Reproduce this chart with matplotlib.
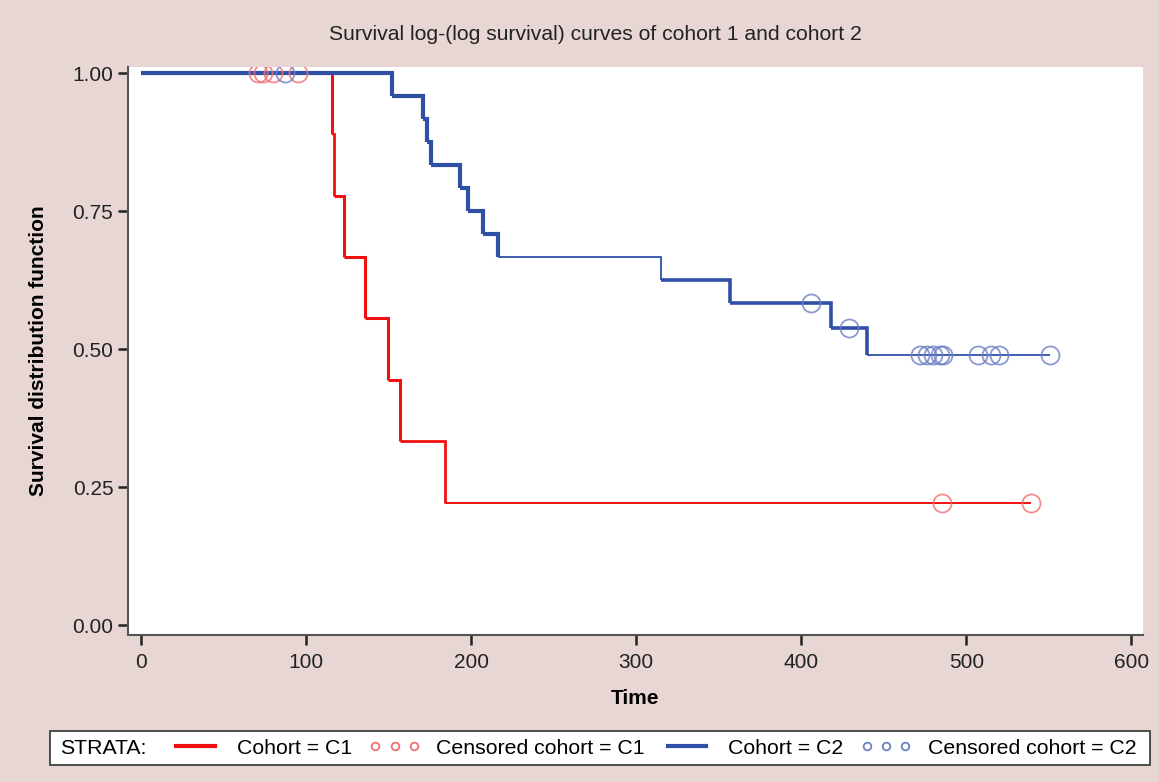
import matplotlib as mpl
mpl.use('Agg')
import matplotlib.pyplot as plt
from matplotlib.lines import Line2D
from matplotlib.patches import Rectangle

plt.rcParams['font.family'] = ['Liberation Sans', 'DejaVu Sans']

# Kaplan-Meier steps
c1_time = [0, 116, 117, 123, 136, 149.5, 157, 184, 539]
c1_surv = [1.0, 0.889, 0.778, 0.667, 0.556, 0.444, 0.333, 0.222, 0.222]
c2_time = [0, 152, 171, 173, 176, 193, 198, 207, 216, 315, 357, 418, 440, 551]
c2_surv = [1.0, 0.958, 0.917, 0.875, 0.833, 0.792, 0.750, 0.708, 0.667,
           0.625, 0.583, 0.538, 0.489, 0.489]

# censored observations
c1_cens_time = [71, 74, 80, 95, 485, 539]
c1_cens_surv = [1.0, 1.0, 1.0, 1.0, 0.222, 0.222]
c2_cens_time = [87, 406, 429, 472, 476, 480, 484, 486, 507, 515, 520, 551]
c2_cens_surv = [1.0, 0.583, 0.538, 0.489, 0.489, 0.489, 0.489, 0.489,
                0.489, 0.489, 0.489, 0.489]

RED = '#f01010'
BLUE = '#3050a8'
BG = '#e7d6d3'


def draw_steps(ax, t, s, color, widths):
    # one horizontal + following vertical per interval, each with own width
    for i in range(len(t) - 1):
        xs = [t[i], t[i + 1], t[i + 1]]
        ys = [s[i], s[i], s[i + 1]]
        ax.plot(xs, ys, color=color, lw=widths[i], solid_joinstyle='miter',
                solid_capstyle='butt', zorder=3)


def main():
    fig = plt.figure(figsize=(11.59, 7.82), dpi=100, facecolor=BG)
    ax = fig.add_axes([0.1104, 0.188, 0.8757, 0.7263])
    ax.set_facecolor('white')

    red_w = [2.2, 2.0, 2.2, 2.2, 2.2, 2.2, 2.0, 1.4]
    blue_w = [3.0, 3.0, 3.0, 3.0, 3.0, 3.0, 3.0, 3.0, 1.3, 2.6, 2.6, 2.6, 1.3]
    draw_steps(ax, c1_time, c1_surv, RED, red_w)
    draw_steps(ax, c2_time, c2_surv, BLUE, blue_w)

    ax.plot(c1_cens_time, c1_cens_surv, 'o', ms=13, mfc='none', mec='#f07070',
            mew=1.3, alpha=0.8, zorder=4)
    ax.plot(c2_cens_time, c2_cens_surv, 'o', ms=13, mfc='none', mec='#6e80c4',
            mew=1.3, alpha=0.8, zorder=4)

    ax.set_xlim(-7.9, 607)
    ax.set_ylim(-0.018, 1.011)
    ax.set_xticks([0, 100, 200, 300, 400, 500, 600])
    ax.set_yticks([0, 0.25, 0.5, 0.75, 1.0])
    ax.set_yticklabels(['0.00', '0.25', '0.50', '0.75', '1.00'])
    for side in ['top', 'right']:
        ax.spines[side].set_visible(False)
    for side in ['left', 'bottom']:
        ax.spines[side].set_color('#555555')
        ax.spines[side].set_linewidth(1.5)
    ax.tick_params(direction='out', length=7.5, width=1.8, color='#222222',
                   labelsize=15, labelcolor='#222222', pad=3)
    ax.tick_params(axis='x', pad=5.5)

    ax.set_xlabel('Time', fontsize=15, fontweight='bold', labelpad=12)
    fig.text(0.033, 0.551, 'Survival distribution function', rotation=90,
             fontsize=15, fontweight='bold', ha='center', va='center')
    fig.text(0.514, 0.956, 'Survival log-(log survival) curves of cohort 1 and cohort 2',
             fontsize=15.2, ha='center', va='center', color='#222222')

    # legend strip
    x0, x1 = 50 / 1159, 1150 / 1159
    y0, y1 = 1 - 765 / 782, 1 - 731 / 782
    fig.patches.append(Rectangle((x0, y0), x1 - x0, y1 - y0, transform=fig.transFigure,
                                 facecolor='white', edgecolor='#333333', lw=1.2))
    fig.text(60 / 1159, (y0 + y1) / 2, 'STRATA:', fontsize=15.3, va='center')
    handles = [
        Line2D([], [], color=RED, lw=3),
        Line2D([], [], ls='none', marker='o', ms=5.5, mfc='none', mec='#f07070', mew=1.3),
        Line2D([], [], color=BLUE, lw=3),
        Line2D([], [], ls='none', marker='o', ms=5.5, mfc='none', mec='#6e80c4', mew=1.3),
    ]
    labels = ['Cohort = C1', 'Censored cohort = C1', 'Cohort = C2', 'Censored cohort = C2']
    fig.legend(handles, labels, loc='center left', bbox_to_anchor=(170 / 1159, (y0 + y1) / 2),
               ncol=4, frameon=False, fontsize=15.3, numpoints=3, handlelength=2.4,
               handletextpad=0.75, columnspacing=0.8, borderpad=0, borderaxespad=0)

    fig.savefig('out.png', dpi=100, facecolor=BG)


if __name__ == '__main__':
    main()
